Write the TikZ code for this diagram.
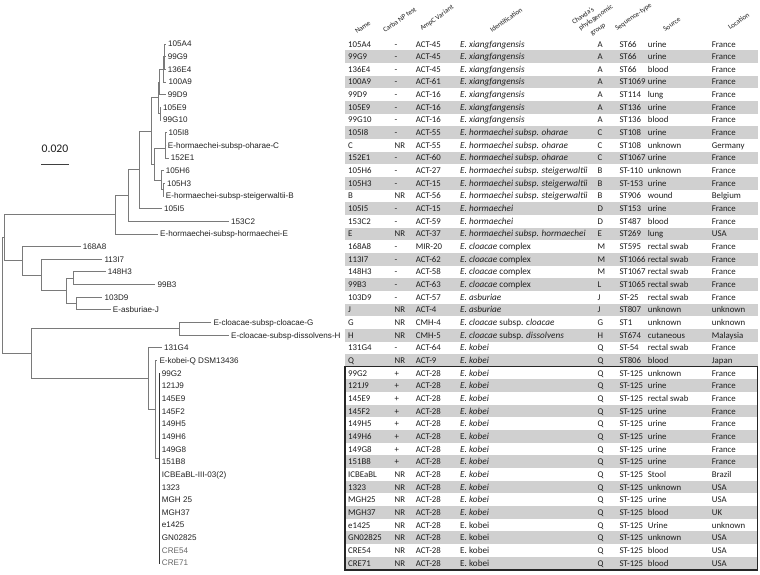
\documentclass[tikz,border=0pt]{standalone}
\usepackage{fontspec}
\setmainfont{Carlito}
\newfontfamily\treefont{Liberation Sans}
\definecolor{rowgray}{HTML}{D0D0D0}
\definecolor{brc}{HTML}{7A7A7A}
\definecolor{txt}{HTML}{1E1E1E}
\definecolor{lbl}{HTML}{222222}
\newcommand\spA{\textit{E. xiangfangensis}}
\newcommand\spB{\textit{E. hormaechei subsp. oharae}}
\newcommand\spC{\textit{E. hormaechei subsp. steigerwaltii}}
\newcommand\spD{\textit{E. hormaechei}}
\newcommand\spE{\textit{E. hormaechei subsp. hormaechei}}
\newcommand\spF{\textit{E. cloacae} complex}
\newcommand\spG{\textit{E. asburiae}}
\newcommand\spH{\textit{E. cloacae} subsp. \textit{cloacae}}
\newcommand\spI{\textit{E. cloacae} subsp. \textit{dissolvens}}
\newcommand\spK{\textit{E. kobei}}
\newcommand\spL{E. \textit{kobei}}
\newcommand\spM{E. kobei}
\begin{document}
\begin{tikzpicture}[x=1pt,y=-1pt,
  br/.style={draw=brc,line width=0.8pt},
  tl/.style={anchor=west,inner xsep=2pt,inner ysep=0pt,text height=5.8pt,text depth=0pt,
     font=\treefont\fontsize{8.1}{9}\selectfont,text=lbl},
  tc/.style={anchor=west,inner sep=0pt,text height=6pt,text depth=0pt,
     font=\fontsize{8.8}{10}\selectfont,text=txt},
  tci/.style={tc,font=\fontsize{9.2}{10}\selectfont},
  hd/.style={anchor=base west,inner sep=0pt,rotate=35,font=\fontsize{7}{8}\selectfont,text=txt}]
\useasboundingbox (0,0) rectangle (760,574);
\fill[white] (0,0) rectangle (760,574);
% row shading
\foreach \i in {2,4,...,42}{
  \fill[rowgray] (345,{44+12.66*(\i-1)-6.33}) rectangle (758,{44+12.66*(\i-1)+6.33});
}
% headers
\node[hd] (hname) at (357,34) {Name};
\node[hd] (hcarba) at (385,33) {Carba NP test};
\node[hd] (hampc) at (422,31) {AmpC Variant};
\node[hd] (hid) at (492,33) {Identification};
\node[hd] (hgrp1) at (574,25) {Chavda's};
\node[hd] (hgrp2) at (580.5,31) {phylogenomic};
\node[hd] (hgrp3) at (592,36) {group};
\node[hd] (hst) at (617,31) {Sequence-type};
\node[hd] (hsrc) at (665,32) {Source};
\node[hd] (hloc) at (730,30) {Location};
% table
\foreach \i/\va/\vb/\vc/\vd/\ve/\vf/\vg/\vh in {
1/105A4/-/ACT-45/\spA/A/ST66/urine/France,
2/99G9/-/ACT-45/\spA/A/ST66/urine/France,
3/136E4/-/ACT-45/\spA/A/ST66/blood/France,
4/100A9/-/ACT-61/\spA/A/ST1069/urine/France,
5/99D9/-/ACT-16/\spA/A/ST114/lung/France,
6/105E9/-/ACT-16/\spA/A/ST136/urine/France,
7/99G10/-/ACT-16/\spA/A/ST136/blood/France,
8/105I8/-/ACT-55/\spB/C/ST108/urine/France,
9/C/NR/ACT-55/\spB/C/ST108/unknown/Germany,
10/152E1/-/ACT-60/\spB/C/ST1067/urine/France,
11/105H6/-/ACT-27/\spC/B/ST-110/unknown/France,
12/105H3/-/ACT-15/\spC/B/ST-153/urine/France,
13/B/NR/ACT-56/\spC/B/ST906/wound/Belgium,
14/105I5/-/ACT-15/\spD/D/ST153/urine/France,
15/153C2/-/ACT-59/\spD/D/ST487/blood/France,
16/E/NR/ACT-37/\spE/E/ST269/lung/USA,
17/168A8/-/MIR-20/\spF/M/ST595/rectal swab/France,
18/113I7/-/ACT-62/\spF/M/ST1066/rectal swab/France,
19/148H3/-/ACT-58/\spF/M/ST1067/rectal swab/France,
20/99B3/-/ACT-63/\spF/L/ST1065/rectal swab/France,
21/103D9/-/ACT-57/\spG/J/ST-25/rectal swab/France,
22/J/NR/ACT-4/\spG/J/ST807/unknown/unknown,
23/G/NR/CMH-4/\spH/G/ST1/unknown/unknown,
24/H/NR/CMH-5/\spI/H/ST674/cutaneous/Malaysia,
25/131G4/-/ACT-64/\spK/Q/ST-54/rectal swab/France,
26/Q/NR/ACT-9/\spK/Q/ST806/blood/Japan,
27/99G2/+/ACT-28/\spK/Q/ST-125/unknown/France,
28/121J9/+/ACT-28/\spK/Q/ST-125/urine/France,
29/145E9/+/ACT-28/\spK/Q/ST-125/rectal swab/France,
30/145F2/+/ACT-28/\spK/Q/ST-125/urine/France,
31/149H5/+/ACT-28/\spK/Q/ST-125/urine/France,
32/149H6/+/ACT-28/\spL/Q/ST-125/urine/France,
33/149G8/+/ACT-28/\spK/Q/ST-125/urine/France,
34/151B8/+/ACT-28/\spK/Q/ST-125/urine/France,
35/ICBEaBL/NR/ACT-28/\spK/Q/ST-125/Stool/Brazil,
36/1323/NR/ACT-28/\spK/Q/ST-125/unknown/USA,
37/MGH25/NR/ACT-28/\spK/Q/ST-125/urine/USA,
38/MGH37/NR/ACT-28/\spK/Q/ST-125/blood/UK,
39/e1425/NR/ACT-28/\spM/Q/ST-125/Urine/unknown,
40/GN02825/NR/ACT-28/\spM/Q/ST-125/unknown/USA,
41/CRE54/NR/ACT-28/\spM/Q/ST-125/blood/USA,
42/CRE71/NR/ACT-28/\spM/Q/ST-125/blood/USA}{
  \pgfmathsetmacro\yy{44+12.66*(\i-1)}
  \node[tc] (ca\i) at (348,\yy) {\va};
  \node[tc] (cb\i) at (394.5,\yy) {\vb};
  \node[tc] (cc\i) at (415.7,\yy) {\vc};
  \node[tci] (cd\i) at (460,\yy) {\vd};
  \node[tc] (ce\i) at (597.3,\yy) {\ve};
  \node[tc] (cf\i) at (619.3,\yy) {\vf};
  \node[tc] (cg\i) at (647.7,\yy) {\vg};
  \node[tc] (ch\i) at (711.7,\yy) {\vh};
}
% box
\draw[line width=1.1pt,black!85] (345,366.8) rectangle (757.5,570);
% scale bar
\node[inner sep=0pt,font=\fontsize{11.7}{13}\selectfont,text=txt] (scl) at (55,149) {0.020};
\coordinate (sb1) at (41,164.3);
\coordinate (sb2) at (68.7,164.3);
\draw[draw=black!75,line width=1pt] (sb1) -- (sb2);
% tree tips
\node[tl] (t1) at (166,44.00) {105A4};
\node[tl] (t2) at (165.7,56.66) {99G9};
\node[tl] (t3) at (165.7,69.32) {136E4};
\node[tl] (t4) at (166.3,81.98) {100A9};
\node[tl] (t5) at (165.7,94.64) {99D9};
\node[tl] (t6) at (161,107.30) {105E9};
\node[tl] (t7) at (161,119.96) {99G10};
\node[tl] (t8) at (166.3,132.62) {105I8};
\node[tl] (t9) at (165.7,145.28) {E-hormaechei-subsp-oharae-C};
\node[tl] (t10) at (168.7,157.94) {152E1};
\node[tl] (t11) at (163.7,170.60) {105H6};
\node[tl] (t12) at (165,183.26) {105H3};
\node[tl] (t13) at (163.7,195.92) {E-hormaechei-subsp-steigerwaltii-B};
\node[tl] (t14) at (162,208.58) {105I5};
\node[tl] (t15) at (229,221.24) {153C2};
\node[tl] (t16) at (158,233.90) {E-hormaechei-subsp-hormaechei-E};
\node[tl] (t17) at (80.7,246.56) {168A8};
\node[tl] (t18) at (102.3,259.22) {113I7};
\node[tl] (t19) at (105.7,271.88) {148H3};
\node[tl] (t20) at (155.3,284.54) {99B3};
\node[tl] (t21) at (102.3,297.20) {103D9};
\node[tl] (t22) at (110.7,309.86) {E-asburiae-J};
\node[tl] (t23) at (211.3,322.52) {E-cloacae-subsp-cloacae-G};
\node[tl] (t24) at (229,335.18) {E-cloacae-subsp-dissolvens-H};
\node[tl] (t25) at (162,347.84) {131G4};
\node[tl] (t26) at (157.3,360.50) {E-kobei-Q DSM13436};
\foreach \i/\lab in {27/99G2,28/121J9,29/145E9,30/145F2,31/149H5,32/149H6,33/149G8,34/151B8,
  35/ICBEaBL-III-03(2),36/1323,37/MGH 25,38/MGH37,39/e1425,40/GN02825}{
  \node[tl] (t\i) at (159.7,{44+12.66*(\i-1)}) {\lab};
}
\node[tl,text=black!60] (t41) at (159.7,550.40) {CRE54};
\node[tl,text=black!60] (t42) at (159.7,563.06) {CRE71};
% internal nodes
\coordinate (a1a) at (164.7,56.66);
\coordinate (a1) at (163.5,69.32);
\coordinate (x1) at (159.5,81.98);
\coordinate (a2) at (160.3,113.63);
\coordinate (xg) at (158.5,97.80);
\coordinate (c1) at (165.8,138.95);
\coordinate (cg) at (165.3,148.45);
\coordinate (b1) at (163,189.59);
\coordinate (bg) at (161.7,180.10);
\coordinate (cb) at (154,164.27);
\coordinate (h4) at (151.7,131.04);
\coordinate (h3) at (139,169.81);
\coordinate (h2) at (128,195.52);
\coordinate (h1) at (115,214.71);
\coordinate (jj) at (76,303.53);
\coordinate (b3) at (73.3,278.21);
\coordinate (cc3) at (66.7,290.87);
\coordinate (cc2) at (41.7,275.05);
\coordinate (cc1) at (22.3,260.80);
\coordinate (gh) at (179,328.85);
\coordinate (st) at (159.3,458.30);
\coordinate (qq) at (155.7,409.40);
\coordinate (kk) at (148.3,378.62);
\coordinate (low) at (31.7,353.74);
\coordinate (up) at (4,237.76);
\coordinate (root) at (2.5,295.75);
% branches
\foreach \p/\c in {a1a/t1,a1a/t2,a1a/t3,a1/t4,x1/t5,a2/t6,a2/t7,c1/t8,c1/t9,cg/t10,
  bg/t11,b1/t12,b1/t13,h3/t14,h2/t15,h1/t16,cc1/t17,cc2/t18,b3/t19,b3/t20,jj/t21,jj/t22,
  gh/t23,gh/t24,kk/t25,qq/t26}{
  \draw[br] (\p) |- (\c.west);
}
\foreach \i in {27,...,42}{
  \draw[br,draw=black!80] (st) |- (t\i.west);
}
\foreach \p/\c in {a1/a1a,x1/a1,xg/x1,xg/a2,cg/c1,bg/b1,cb/cg,cb/bg,h4/xg,h4/cb,h3/h4,
  h2/h3,h1/h2,cc3/b3,cc3/jj,cc2/cc3,cc1/cc2,up/h1,up/cc1,qq/st,kk/qq,low/gh,low/kk,
  root/up,root/low}{
  \draw[br] (\p) |- (\c);
}
\end{tikzpicture}
\end{document}
